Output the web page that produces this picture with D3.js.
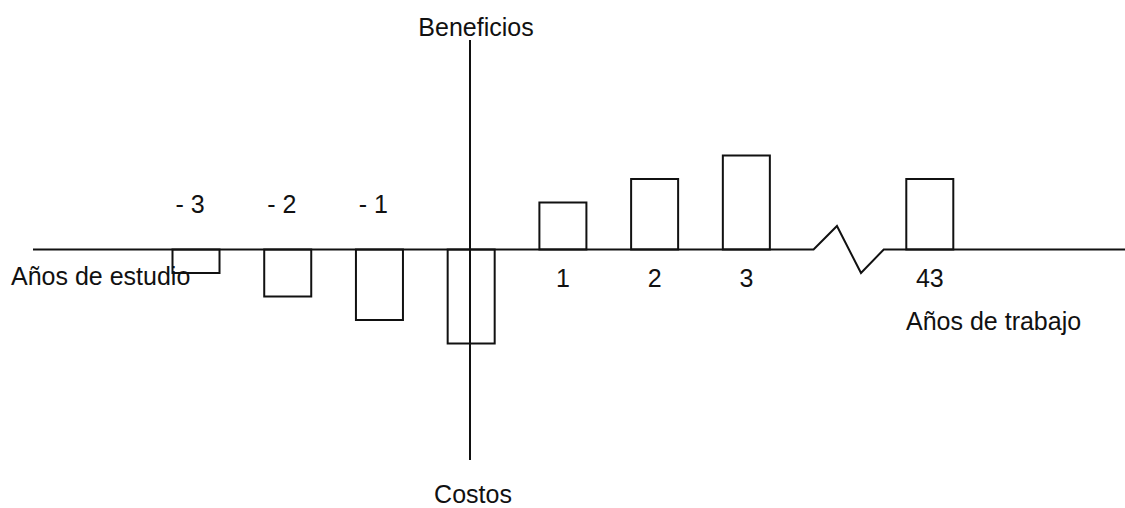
<!DOCTYPE html>
<html>
<head>
<meta charset="utf-8">
<script src="https://cdn.jsdelivr.net/npm/d3@7"></script>
<style>
  html, body { margin: 0; padding: 0; background: #fff; }
  svg { display: block; }
  text { font-family: "Liberation Sans", Arial, sans-serif; fill: #111; }
</style>
</head>
<body>
<svg id="chart" width="1125" height="508"></svg>
<script>
// ---- data ----
const slots = ["-3", "-2", "-1", "0", "1", "2", "3", "break", "43"];
const categories = ["-3", "-2", "-1", "0", "1", "2", "3", "43"];
const values = [-1, -2, -3, -4, 2, 3, 4, 3];
const tickLabels = ["- 3", "- 2", "- 1", "", "1", "2", "3", "43"];
const zigzag = [0, 1, -1, 0];
const axisTitles = { left: "Años de estudio", right: "Años de trabajo", top: "Beneficios", bottom: "Costos" };

// ---- layout ----
const svg = d3.select("#chart");
const W = 1125, H = 508;
const FS = 25;
const x = d3.scaleBand().domain(slots).range([172.5, 953.3]).paddingInner(0.4875).paddingOuter(0);
const y = d3.scaleLinear().domain([-4, 4]).range([343.5, 155.5]);
const axisX = 470;
const step = x.step();

const g = svg.append("g");

// bars
const data = categories.map((c, i) => ({ c, v: values[i], label: tickLabels[i] }));
g.selectAll("rect.bar").data(data).join("rect")
  .attr("class", "bar")
  .attr("x", d => x(d.c))
  .attr("width", x.bandwidth())
  .attr("y", d => y(Math.max(0, d.v)))
  .attr("height", d => Math.abs(y(d.v) - y(0)))
  .attr("fill", "none")
  .attr("stroke", "#111")
  .attr("stroke-width", 2);

// zigzag break in horizontal axis
const bx0 = x("break") - 1;
const zzX = [bx0, bx0 + step * 0.255, bx0 + step * 0.517, bx0 + step * 0.765];
const zzPts = zigzag.map((v, i) => [zzX[i], y(v)]);
const baseY = y(0);
g.append("path")
  .attr("d", d3.line()([[33, baseY], ...zzPts, [W, baseY]]))
  .attr("fill", "none").attr("stroke", "#111").attr("stroke-width", 2)
  .attr("stroke-linejoin", "miter");

// vertical axis
g.append("line")
  .attr("x1", axisX).attr("x2", axisX).attr("y1", 40).attr("y2", 460)
  .attr("stroke", "#111").attr("stroke-width", 2);

// tick labels
g.selectAll("text.tick").data(data.filter(d => d.label !== "")).join("text")
  .attr("class", "tick")
  .attr("x", d => x(d.c) + x.bandwidth() / 2 + (d.v < 0 ? -6 : 0))
  .attr("y", d => d.v < 0 ? 213 : 287)
  .attr("text-anchor", "middle")
  .attr("font-size", FS)
  .text(d => d.label);

// axis titles
g.append("text").attr("x", 11).attr("y", 285).attr("font-size", FS).text(axisTitles.left);
g.append("text").attr("x", 906).attr("y", 330).attr("font-size", FS).text(axisTitles.right);
g.append("text").attr("x", 476).attr("y", 36).attr("text-anchor", "middle").attr("font-size", FS).text(axisTitles.top);
g.append("text").attr("x", 473).attr("y", 503).attr("text-anchor", "middle").attr("font-size", FS).text(axisTitles.bottom);
</script>
</body>
</html>
